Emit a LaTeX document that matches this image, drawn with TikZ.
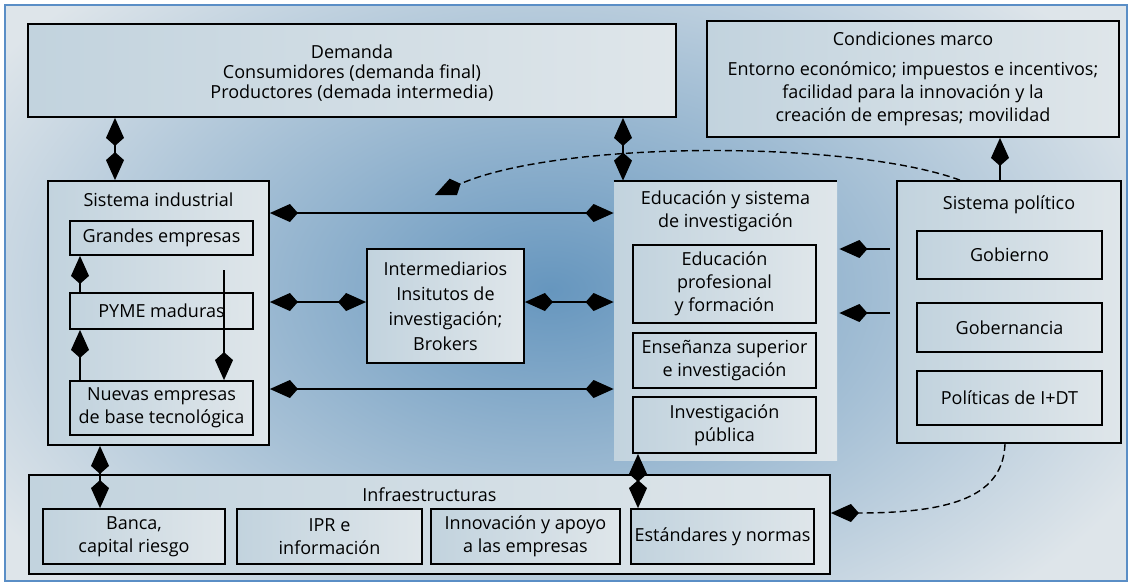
\documentclass[tikz,border=0pt]{standalone}
\usepackage{fontspec}
\setmainfont{Open Sans}
\usetikzlibrary{arrows.meta, positioning, calc}
\definecolor{frameline}{HTML}{5A8EC6}
\definecolor{bgout}{HTML}{DEE5EA}
\definecolor{bgin}{HTML}{6696BE}
\definecolor{boxl}{HTML}{C2D3DE}
\definecolor{boxr}{HTML}{DFE6EA}

\begin{document}
\begin{tikzpicture}[x=0.5pt, y=-0.5pt, >={Kite[length=14pt, width=9pt, inset=4pt]},
  font=\fontsize{9}{11.5}\selectfont,
  panel/.style={left color=boxl, right color=boxr, inner sep=0pt, align=center},
  box/.style={panel, draw, line width=0.9pt},
  title/.style={align=center},
  link/.style={line width=0.7pt},
  dashlink/.style={line width=0.7pt, dash pattern=on 3.5pt off 2pt}]
  \useasboundingbox (0,0) rectangle (1130,585);
  % fondo
  \fill[bgout] (5,5) rectangle (1127,581);
  \begin{scope}
    \clip (5,5) rectangle (1127,581);
    \shade[inner color=bgin, outer color=bgout] (550,290) ellipse (660 and 420);
  \end{scope}
  \draw[frameline, line width=1pt] (5,5) rectangle (1127,581);

  % cajas superiores
  \node[box, minimum width=324pt, minimum height=46.5pt, font=\fontsize{9}{10}\selectfont] (demanda) at (352,70.5)
    {\rule{0pt}{9pt}Demanda\\Consumidores (demanda final)\\Productores (demada intermedia)};
  \node[box, minimum width=206pt, minimum height=58pt] (marco) at (913,79)
    {Condiciones marco\\[3.5pt]Entorno económico; impuestos e incentivos;\\facilidad para la innovación y la\\creación de empresas; movilidad};

  % sistema industrial
  \node[box, minimum width=110.5pt, minimum height=132pt] (sisind) at (158.5,313) {};
  \node[title] (sisindtit) at (158.5,200) {Sistema industrial};
  \node[box, minimum width=91.5pt, minimum height=17pt] (grandes) at (161.5,238) {Grandes empresas};
  \node[box, minimum width=91.5pt, minimum height=18pt] (pyme) at (161.5,311) {PYME maduras};
  \node[box, minimum width=91.5pt, minimum height=27pt] (nuevas) at (161.5,408) {Nuevas empresas\\de base tecnológica};

  % intermediarios
  \node[box, minimum width=78.5pt, minimum height=57pt, font=\fontsize{9}{12.5}\selectfont] (inter) at (445.5,306)
    {Intermediarios\\Insitutos de\\investigación;\\Brokers};

  % educacion
  \node[panel, minimum width=111.5pt, minimum height=139.5pt] (educ) at (725.5,320.5) {};
  \draw[line width=0.9pt] (educ.north west) -- (educ.north east);
  \node[title] (eductit) at (725.5,211.5) {Educación y sistema\\de investigación};
  \node[box, minimum width=91.5pt, minimum height=39pt] (edprof) at (724.5,284) {Educación\\profesional\\y formación};
  \node[box, minimum width=91.5pt, minimum height=27.5pt] (ensup) at (724.5,360.5) {Enseñanza superior\\e investigación};
  \node[box, minimum width=91.5pt, minimum height=28pt] (invpub) at (724.5,425) {Investigación\\pública};

  % sistema politico
  \node[box, minimum width=112pt, minimum height=131pt] (sispol) at (1009,312) {};
  \node[title] (sispoltit) at (1009,205) {Sistema político};
  \node[box, minimum width=92.5pt, minimum height=24pt] (gobierno) at (1009.5,255) {Gobierno};
  \node[box, minimum width=92.5pt, minimum height=24.5pt] (gobern) at (1009.5,327.5) {Gobernancia};
  \node[box, minimum width=92.5pt, minimum height=27pt] (politicas) at (1009.5,398) {Políticas de I+DT};

  % infraestructuras
  \node[box, minimum width=400.5pt, minimum height=49.5pt] (infra) at (429.5,524.5) {};
  \node[title] (infratit) at (429.5,495) {Infraestructuras};
  \node[box, minimum width=91pt, minimum height=27.5pt] (banca) at (134,536.5) {Banca,\\capital riesgo};
  \node[box, minimum width=92.5pt, minimum height=27.5pt] (ipr) at (329.5,536.5) {IPR e\\información};
  \node[box, minimum width=94.5pt, minimum height=27.5pt] (innov) at (525.5,536.5) {Innovación y apoyo\\a las empresas};
  \node[box, minimum width=91.5pt, minimum height=27.5pt] (estand) at (722.5,536.5) {Estándares y normas};

  % conexiones
  \draw[link, <->] (demanda.south -| 115,0) -- (sisind.north -| 115,0);
  \draw[link, <->] (demanda.south -| 623,0) -- (educ.north -| 623,0);
  \draw[link, <->] (sisind.east |- 0,213) -- (educ.west |- 0,213);
  \draw[link, <->] (sisind.east |- 0,302) -- (inter.west |- 0,302);
  \draw[link, <->] (inter.east |- 0,302) -- (educ.west |- 0,302);
  \draw[link, <->] (sisind.east |- 0,389) -- (educ.west |- 0,389);
  \draw[link, ->, shorten <=3pt, shorten >=1pt] (sispol.west |- 0,249) -- (educ.east |- 0,249);
  \draw[link, ->, shorten <=3pt, shorten >=1pt] (sispol.west |- 0,313) -- (educ.east |- 0,313);
  \draw[link, ->] (sispol.north -| 1000,0) -- (marco.south -| 1000,0);
  \draw[link, <->] (sisind.south -| 100,0) -- (banca.north -| 100,0);
  \draw[link, <->] (invpub.south -| 638,0) -- (estand.north -| 638,0);

  % flujos internos
  \draw[link, ->] (pyme.north -| 80,0) -- (grandes.south -| 80,0);
  \draw[link, ->] (nuevas.north -| 80,0) -- (pyme.south -| 80,0);
  \coordinate (drop) at (224,270);
  \draw[link, ->] (drop) -- (nuevas.north -| drop);

  % influencia politica
  \coordinate (dashend) at (435,195);
  \draw[dashlink, ->] (sispol.north -| 960,0) .. controls (850,140) and (560,140) .. (dashend);
  \draw[dashlink, ->] (sispol.south -| 1005,0) .. controls (1003,495) and (955,513) .. (infra.east |- 0,513);
\end{tikzpicture}
\end{document}
